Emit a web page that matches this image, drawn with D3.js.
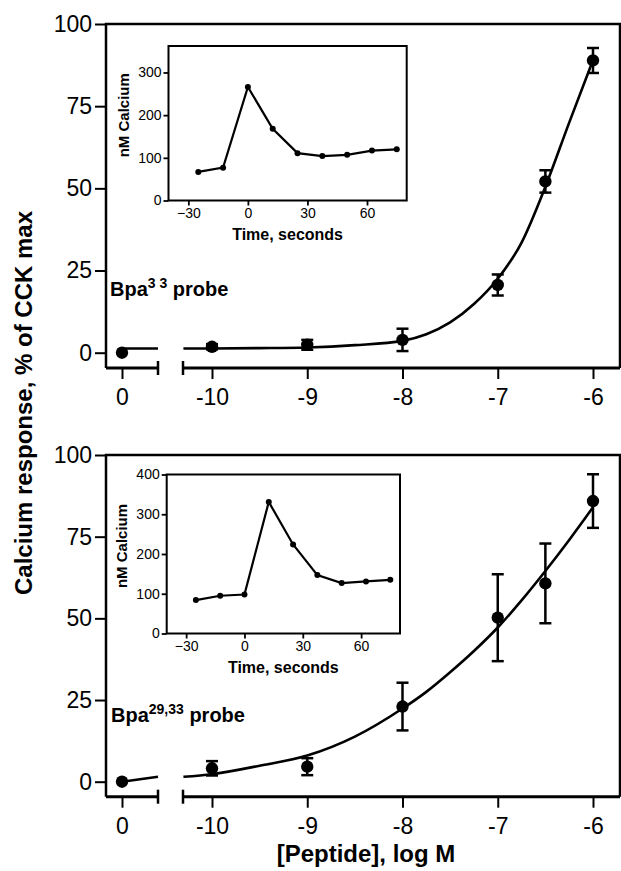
<!DOCTYPE html>
<html lang="en">
<head>
<meta charset="UTF-8">
<title>Calcium response</title>
<script src="https://cdn.jsdelivr.net/npm/d3@7"></script>
<style>
    body { margin: 0; background: #fff; }
    svg { display: block; font-family: "Liberation Sans", Arial, Helvetica, sans-serif; }
    .axis path.domain { display: none; }
    .axis line { stroke: #000; }
    .axis text { fill: #000; }
</style>
</head>
<body>
<svg id="chart" width="621" height="871"></svg>
<script>
// main panels: x is log M, plus a separate "0" (no peptide) point left of the break
var logDoses = [-10, -9, -8, -7, -6.5, -6];
var doseTicks = [-10, -9, -8, -7, -6];
var responseTicks = [0, 25, 50, 75, 100];

var bpa33Mean = [1.8, 2.4, 3.9, 20.6, 52.1, 88.9];
var bpa33Err = [0.8, 1.5, 3.4, 3.2, 3.4, 3.8];
var bpa2933Mean = [4.1, 4.6, 23.0, 50.2, 60.7, 85.9];
var bpa2933Err = [2.2, 2.6, 7.3, 13.3, 12.2, 8.2];
var zeroMean = [0, 0];   // top, bottom

// fitted curves
var fitLog = [-10.3, -10, -9.5, -9, -8.5, -8, -7.75, -7.5, -7.25, -7, -6.75, -6.5, -6.25, -6];
var bpa33Fit = [1.3, 1.3, 1.4, 1.6, 2.3, 3.6, 5.6, 9.2, 14.8, 22.5, 33.5, 50.5, 70, 89];
var bpa2933Fit = [1.5, 2.3, 4.9, 8, 13.8, 22.4, 27.5, 33.5, 40, 47.2, 55.5, 64.5, 74, 84];
var zeroFitX = [0, 0.45];
var bpa33ZeroFit = [1.3, 1.3];
var bpa2933ZeroFit = [0, 1.5];

// insets: calcium trace
var insetTime = [-25, -12.5, 0, 12.5, 25, 37.5, 50, 62.5, 75];
var timeTicks = [-30, 0, 30, 60];
var bpa33Calcium = [67, 77, 266, 168, 111, 104, 107, 117, 120];
var bpa2933Calcium = [84, 95, 98, 331, 224, 147, 127, 131, 135];
var bpa33CaTicks = [0, 100, 200, 300];
var bpa2933CaTicks = [0, 100, 200, 300, 400];

var svg = d3.select("#chart");
var FONT = '"Liberation Sans", Arial, Helvetica, sans-serif';

var xZero = d3.scaleLinear().domain([-0.2, 0.45]).range([106, 158]);
var xLog = d3.scaleLinear().domain([-10, -6]).range([212, 593]);
var LEFT = 106, RIGHT = 620, BREAK_L = 158, BREAK_R = 183;

function drawPanel(cfg) {
    var y = d3.scaleLinear().domain([0, 100]).range([cfg.y0, cfg.y100]);
    var g = svg.append("g");

    // frame
    g.append("path")
        .attr("d", "M" + LEFT + "," + cfg.axisY + "V" + cfg.y100 + "H" + RIGHT + "V" + cfg.axisY)
        .attr("fill", "none").attr("stroke", "#000").attr("stroke-width", 2.5);
    g.append("path")
        .attr("d", "M" + LEFT + "," + cfg.axisY + "H" + BREAK_L +
              "M" + BREAK_R + "," + cfg.axisY + "H" + RIGHT)
        .attr("stroke", "#000").attr("stroke-width", 3);
    [BREAK_L, BREAK_R].forEach(function (bx) {
        g.append("line")
            .attr("x1", bx).attr("x2", bx)
            .attr("y1", cfg.axisY - 7).attr("y2", cfg.axisY + 7)
            .attr("stroke", "#000").attr("stroke-width", 2.5);
    });

    // y axis
    var ya = g.append("g").attr("class", "axis")
        .attr("transform", "translate(" + LEFT + ",0)")
        .call(d3.axisLeft(y).tickValues(responseTicks).tickSize(11).tickPadding(3));
    ya.selectAll("line").attr("stroke-width", 2);
    ya.selectAll("text").style("font-size", "23px").style("font-family", FONT);

    // x axes (two segments)
    var xa = g.append("g").attr("class", "axis")
        .attr("transform", "translate(0," + cfg.axisY + ")")
        .call(d3.axisBottom(xLog).tickValues(doseTicks).tickSize(11).tickPadding(10)
            .tickFormat(function (d) { return "-" + Math.abs(d); }));
    var xz = g.append("g").attr("class", "axis")
        .attr("transform", "translate(0," + cfg.axisY + ")")
        .call(d3.axisBottom(xZero).tickValues([0]).tickSize(11).tickPadding(10)
            .tickFormat(function (d) { return "" + d; }));
    [xa, xz].forEach(function (a) {
        a.selectAll("line").attr("stroke-width", 2);
        a.selectAll("text").style("font-size", "23px").style("font-family", FONT);
    });

    // fitted curves
    var fitPts = fitLog.map(function (d, i) { return [xLog(d), y(cfg.fit[i])]; });
    var zeroPts = zeroFitX.map(function (d, i) { return [xZero(d), y(cfg.zeroFit[i])]; });
    var line = d3.line().curve(d3.curveMonotoneX);
    g.append("path").attr("d", line(fitPts))
        .attr("fill", "none").attr("stroke", "#000").attr("stroke-width", 2.6);
    g.append("path").attr("d", d3.line()(zeroPts))
        .attr("fill", "none").attr("stroke", "#000").attr("stroke-width", 2.6);

    // error bars
    var eb = g.selectAll(".eb").data(logDoses).enter().append("g");
    eb.append("line")
        .attr("x1", function (d) { return xLog(d); })
        .attr("x2", function (d) { return xLog(d); })
        .attr("y1", function (d, i) { return y(cfg.mean[i] + cfg.err[i]); })
        .attr("y2", function (d, i) { return y(cfg.mean[i] - cfg.err[i]); })
        .attr("stroke", "#000").attr("stroke-width", 2.5);
    [1, -1].forEach(function (s) {
        eb.append("line")
            .attr("x1", function (d) { return xLog(d) - 6; })
            .attr("x2", function (d) { return xLog(d) + 6; })
            .attr("y1", function (d, i) { return y(cfg.mean[i] + s * cfg.err[i]); })
            .attr("y2", function (d, i) { return y(cfg.mean[i] + s * cfg.err[i]); })
            .attr("stroke", "#000").attr("stroke-width", 2.5);
    });

    // points
    g.selectAll(".pt").data(logDoses).enter().append("circle")
        .attr("cx", function (d) { return xLog(d); })
        .attr("cy", function (d, i) { return y(cfg.mean[i]); })
        .attr("r", 6.2).attr("fill", "#000");
    g.append("circle").attr("cx", xZero(0)).attr("cy", y(cfg.zero)).attr("r", 6.2).attr("fill", "#000");

    // probe label
    var t = g.append("text").attr("x", cfg.labelX).attr("y", cfg.labelY)
        .style("font-size", "20px").style("font-weight", "bold").style("font-family", FONT);
    t.append("tspan").text("Bpa");
    t.append("tspan").attr("dy", -8).style("font-size", "14px").text(cfg.sup);
    t.append("tspan").attr("dy", 8).text(" probe");
}

function drawInset(cfg) {
    var x = d3.scaleLinear().domain([-40, 80]).range([cfg.left, cfg.right]);
    var y = d3.scaleLinear().domain([0, cfg.yMax]).range([cfg.bottom, cfg.top]);
    var g = svg.append("g");

    g.append("rect")
        .attr("x", cfg.left).attr("y", cfg.top)
        .attr("width", cfg.right - cfg.left).attr("height", cfg.bottom - cfg.top)
        .attr("fill", "#fff").attr("stroke", "#000").attr("stroke-width", 2);

    var ya = g.append("g").attr("class", "axis")
        .attr("transform", "translate(" + cfg.left + ",0)")
        .call(d3.axisLeft(y).tickValues(cfg.ticks).tickSize(5).tickPadding(2));
    var xa = g.append("g").attr("class", "axis")
        .attr("transform", "translate(0," + cfg.bottom + ")")
        .call(d3.axisBottom(x).tickValues(timeTicks).tickSize(5).tickPadding(3));
    [ya, xa].forEach(function (a) {
        a.selectAll("line").attr("stroke-width", 1.8);
        a.selectAll("text").style("font-size", "14px").style("font-family", FONT);
    });

    var pts = insetTime.map(function (d, i) { return [x(d), y(cfg.values[i])]; });
    g.append("path").attr("d", d3.line()(pts))
        .attr("fill", "none").attr("stroke", "#000").attr("stroke-width", 2.2);
    g.selectAll(".ipt").data(pts).enter().append("circle")
        .attr("cx", function (d) { return d[0]; })
        .attr("cy", function (d) { return d[1]; })
        .attr("r", 3).attr("fill", "#000");

    g.append("text")
        .attr("transform", "translate(" + cfg.yLabelX + "," + ((cfg.top + cfg.bottom) / 2 - 8) + ") rotate(-90)")
        .attr("text-anchor", "middle")
        .style("font-size", "15px").style("font-weight", "bold").style("font-family", FONT)
        .text("nM Calcium");
    g.append("text")
        .attr("x", (cfg.left + cfg.right) / 2).attr("y", cfg.bottom + 39)
        .attr("text-anchor", "middle")
        .style("font-size", "16px").style("font-weight", "bold").style("font-family", FONT)
        .text("Time, seconds");
}

drawPanel({
    y0: 352.7, y100: 24, axisY: 368,
    mean: bpa33Mean, err: bpa33Err, zero: zeroMean[0],
    fit: bpa33Fit, zeroFit: bpa33ZeroFit,
    labelX: 110, labelY: 296, sup: "3 3"
});
drawPanel({
    y0: 781.7, y100: 455, axisY: 796.7,
    mean: bpa2933Mean, err: bpa2933Err, zero: zeroMean[1],
    fit: bpa2933Fit, zeroFit: bpa2933ZeroFit,
    labelX: 111, labelY: 722, sup: "29,33"
});

drawInset({
    left: 168.5, right: 406.7, top: 46, bottom: 200.5, yMax: 362,
    ticks: bpa33CaTicks, values: bpa33Calcium, yLabelX: 129
});
drawInset({
    left: 166.7, right: 400, top: 474.5, bottom: 633.5, yMax: 400,
    ticks: bpa2933CaTicks, values: bpa2933Calcium, yLabelX: 127
});

// shared axis titles
svg.append("text")
    .attr("transform", "translate(32,403) rotate(-90)")
    .attr("text-anchor", "middle")
    .style("font-size", "24px").style("font-weight", "bold").style("font-family", FONT)
    .text("Calcium response, % of CCK max");
svg.append("text")
    .attr("x", 366).attr("y", 862)
    .attr("text-anchor", "middle")
    .style("font-size", "24px").style("font-weight", "bold").style("font-family", FONT)
    .text("[Peptide], log M");
</script>
</body>
</html>
